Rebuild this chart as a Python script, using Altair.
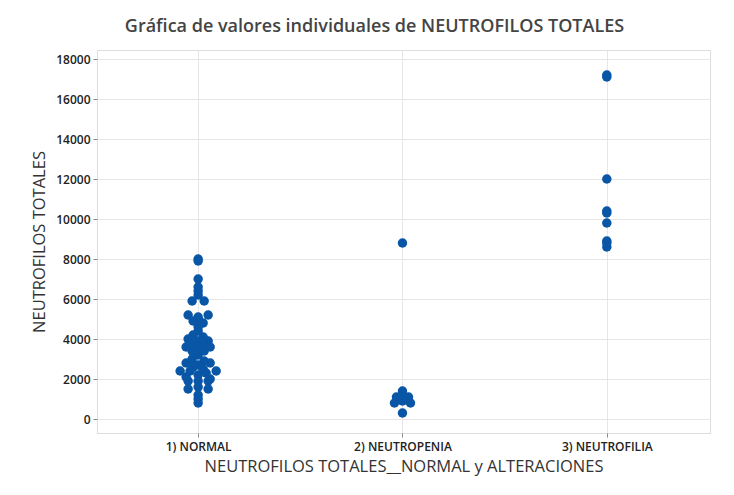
import altair as alt
import pandas as pd

categories = ["1) NORMAL", "2) NEUTROPENIA", "3) NEUTROFILIA"]

normal_values = [8000, 7900, 7000, 6600, 6400, 6200, 5900, 5900, 5200, 5100, 5200, 5000, 4900,
                 4800, 4600, 4400, 4200, 4100, 4000, 3900, 3900, 3800, 3700, 3600, 3600, 3500,
                 3400, 3400, 3200, 3000, 2900, 2800, 2800, 2700, 2600, 2500, 2400, 2400, 2400,
                 2300, 2200, 2100, 2000, 1900, 1900, 1900, 1500, 1500, 1600, 1200, 1000, 800]
normal_jitter = [0, 0, 0, 0, 0, 0, -6, 6, -10, 0, 10, 0, -5,
                 5, 0, 0, -5, 5, -10, 0, 10, -5, 5, -12, 12, 0,
                 -6, 6, 0, -6, 6, -12, 12, 0, -5, 5, -18, 18, -8,
                 8, 0, -12, 12, -10, 0, 10, -10, 10, 0, 0, 0, 0]

neutropenia_values = [8800, 1400, 1100, 1100, 1000, 900, 800, 800, 300]
neutropenia_jitter = [0, 0, -6, 6, 0, 0, -8, 8, 0]

neutrofilia_values = [17200, 17100, 12000, 10400, 10300, 9800, 8900, 8800, 8600]
neutrofilia_jitter = [0, 0, 0, 0, 0, 0, 0, 0, 0]

rows = []
for i, (vals, jit) in enumerate([(normal_values, normal_jitter),
                                 (neutropenia_values, neutropenia_jitter),
                                 (neutrofilia_values, neutrofilia_jitter)]):
    for v, j in zip(vals, jit):
        rows.append({"grupo": categories[i], "idx": i + 1, "valor": v, "jit": j})
df = pd.DataFrame(rows)

label_expr = "datum.value == 1 ? '1) NORMAL' : datum.value == 2 ? '2) NEUTROPENIA' : '3) NEUTROFILIA'"

font = "Open Sans"

chart = alt.Chart(df).transform_calculate(
    xpos="datum.idx + datum.jit * 0.0049"
).mark_circle(size=90, color="#0a56a6", opacity=1).encode(
    x=alt.X("xpos:Q",
            scale=alt.Scale(domain=[0.505, 3.505], nice=False, zero=False),
            axis=alt.Axis(values=[1, 2, 3], labelExpr=label_expr,
                          title="NEUTROFILOS TOTALES__NORMAL y ALTERACIONES",
                          labelFontSize=12, labelColor="#222", labelFont=font, labelFontWeight=600,
                          titleFontSize=16.5, titleFontWeight="normal", titleColor="#333", titleFont=font,
                          titlePadding=6, tickSize=4, tickColor="#888", domain=False,
                          gridColor="#e6e6e6", labelPadding=4)),
    y=alt.Y("valor:Q",
            scale=alt.Scale(domain=[-700, 18450], nice=False, zero=False),
            axis=alt.Axis(values=list(range(0, 18001, 2000)), format="d",
                          title="NEUTROFILOS TOTALES",
                          labelFontSize=12, labelColor="#222", labelFont=font, labelFontWeight=600,
                          titleFontSize=16.5, titleFontWeight="normal", titleColor="#333", titleFont=font,
                          titlePadding=8, tickSize=4, tickColor="#888", domain=False,
                          gridColor="#e6e6e6", labelPadding=3)),
    tooltip=["grupo:N", "valor:Q"]
).properties(
    width=613, height=383,
    title=alt.TitleParams("Gráfica de valores individuales de NEUTROFILOS TOTALES",
                          fontSize=18, font=font, fontWeight=600, color="#444444",
                          anchor="middle", dx=-29, offset=14),
    autosize=alt.AutoSizeParams(type="none"),
    padding={"left": 89, "top": 42, "right": 14, "bottom": 52}
).configure_view(
    stroke="#8a8a8a", strokeWidth=1
).configure(background="white")

chart.save("out.html", embed_options={"renderer": "svg", "actions": False})
